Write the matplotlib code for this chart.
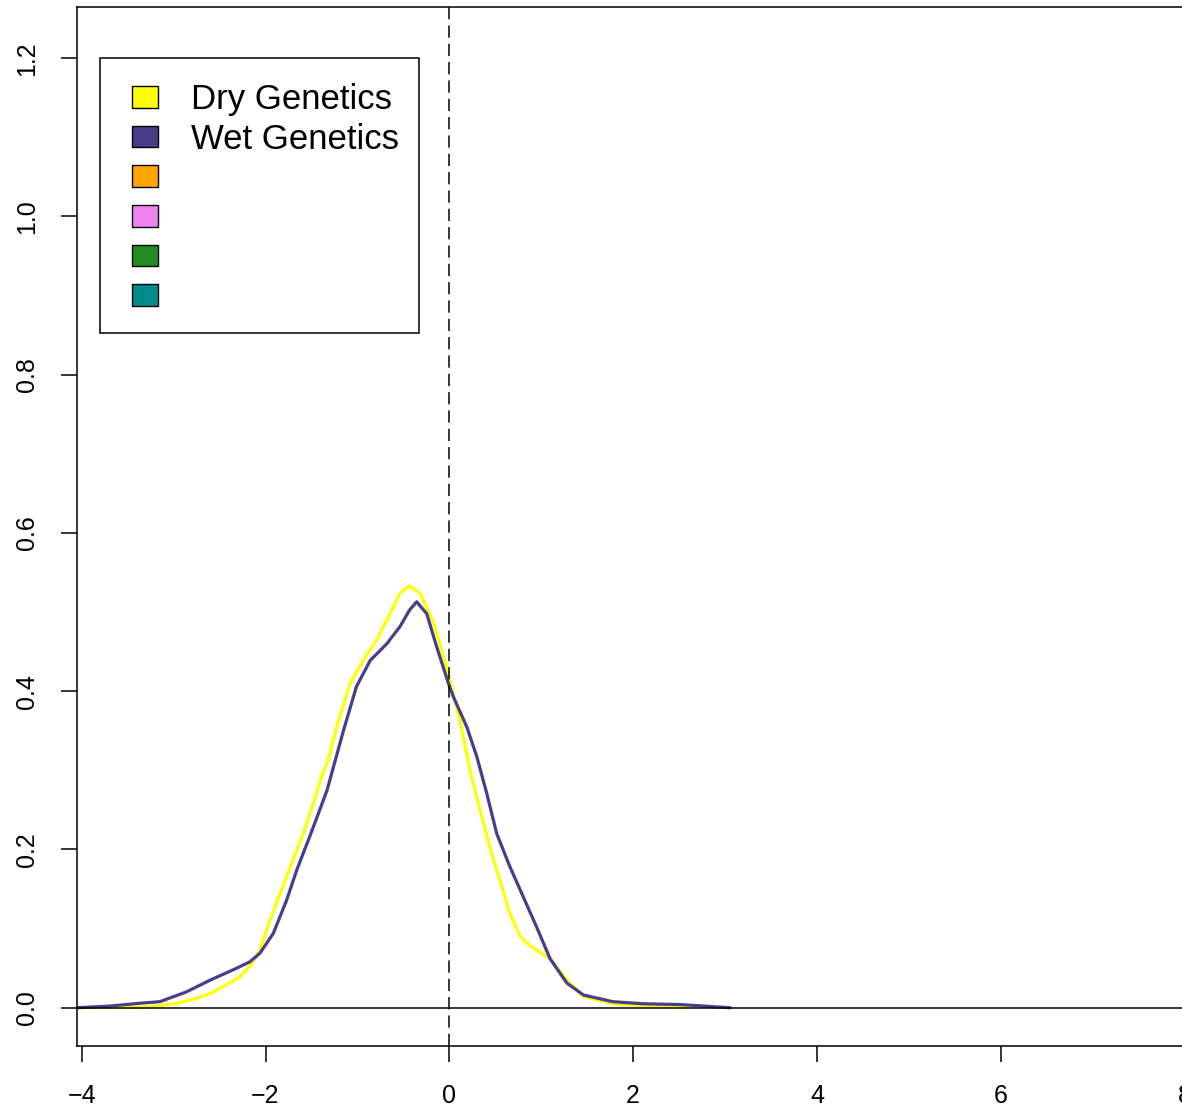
import numpy as np
import matplotlib.pyplot as plt
from matplotlib.patches import Patch, Rectangle

plt.rcParams['font.family'] = ['Liberation Sans', 'DejaVu Sans']

# density curves
dry_x = [-4.05, -3.6, -3.26, -2.97, -2.78, -2.60, -2.44, -2.28, -2.15, -2.06, -1.95,
         -1.84, -1.70, -1.59, -1.48, -1.39, -1.32, -1.225, -1.08, -0.935, -0.79,
         -0.645, -0.535, -0.435, -0.32, -0.17, -0.03, 0.12, 0.225, 0.334, 0.44, 0.55,
         0.66, 0.77, 0.88, 0.99, 1.096, 1.28, 1.46, 1.78, 2.2, 2.62]
dry_y = [0.0, 0.0005, 0.001, 0.0056, 0.011, 0.018, 0.028, 0.039, 0.055, 0.073, 0.111,
         0.145, 0.187, 0.220, 0.258, 0.292, 0.313, 0.355, 0.41, 0.439, 0.465,
         0.498, 0.524, 0.533, 0.524, 0.486, 0.431, 0.36, 0.30, 0.25, 0.203, 0.161,
         0.119, 0.09, 0.078, 0.07, 0.062, 0.035, 0.014, 0.005, 0.002, 0.001]

wet_x = [-4.05, -3.7, -3.37, -3.15, -2.86, -2.60, -2.35, -2.17, -2.06, -1.915, -1.77,
         -1.66, -1.52, -1.41, -1.33, -1.24, -1.15, -1.01, -0.86, -0.68, -0.535, -0.43,
         -0.355, -0.246, -0.137, -0.01, 0.044, 0.19, 0.30, 0.407, 0.516, 0.66, 0.805,
         0.95, 1.096, 1.28, 1.46, 1.78, 2.1, 2.51, 3.05]
wet_y = [0.0, 0.002, 0.0056, 0.0076, 0.020, 0.035, 0.048, 0.058, 0.069, 0.094, 0.136,
         0.174, 0.216, 0.250, 0.275, 0.313, 0.351, 0.406, 0.439, 0.46, 0.482, 0.503,
         0.513, 0.498, 0.456, 0.41, 0.393, 0.355, 0.317, 0.271, 0.220, 0.178, 0.140,
         0.102, 0.062, 0.031, 0.016, 0.0076, 0.005, 0.004, 0.0]

legend_labels = ['Dry Genetics', 'Wet Genetics', '', '', '', '']
legend_colors = ['yellow', 'darkslateblue', 'orange', 'violet', 'forestgreen', 'darkcyan']

x_ticks = [-4, -2, 0, 2, 4, 6, 8]
y_ticks = [0.0, 0.2, 0.4, 0.6, 0.8, 1.0, 1.2]

fig = plt.figure(figsize=(11.82, 11.07), dpi=100)
xlim = (-4.048, 8.3)
ylim = (-0.04803, 1.2644)
w = (xlim[1] - xlim[0]) * 91.9 / 1182
ax = fig.add_axes([77.3 / 1182, (1107 - 1045.7) / 1107, w, (1045.7 - 7.3) / 1107])

ax.plot(dry_x, dry_y, color='yellow', lw=2.3, solid_joinstyle='round')
ax.plot(wet_x, wet_y, color='darkslateblue', lw=2.3, solid_joinstyle='round')
ax.axhline(0, color='black', lw=1.1)
ax.axvline(0, color='black', lw=1.1, ls=(0, (8, 4)))

ax.set_xlim(xlim)
ax.set_ylim(ylim)
ax.set_xticks(x_ticks)
ax.set_xticklabels(['\u22124', '\u22122', '0', '2', '4', '6', '8'])
ax.set_yticks(y_ticks)
ax.set_yticklabels(['%.1f' % v for v in y_ticks], rotation=90, va='center')
ax.tick_params(axis='both', length=11.5, width=1.1, pad=16, labelsize=18)
for s in ax.spines.values():
    s.set_linewidth(1.1)

# legend box (R style, wider padding on the left)
ax.add_patch(Rectangle((-3.8, 0.853), 3.47, 0.347, fill=False, ec='black', lw=1.1, zorder=4))
handles = [Patch(facecolor=c, edgecolor='black', lw=1) for c in legend_colors]
leg = ax.legend(handles, legend_labels, loc='upper left', bbox_to_anchor=(-3.456, 1.1685),
                bbox_transform=ax.transData, borderaxespad=0, borderpad=0, fontsize=25,
                handlelength=0.77, handleheight=0.58, handletextpad=0.95,
                labelspacing=0.19, frameon=False)

fig.savefig('out.png', dpi=100)
